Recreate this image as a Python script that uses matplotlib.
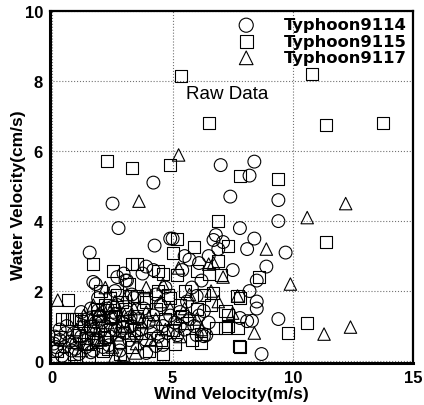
import matplotlib
matplotlib.use("Agg")
import matplotlib.pyplot as plt
import numpy as np

plt.rcParams['font.family'] = ['Liberation Sans', 'DejaVu Sans']

# Typhoon9114 (circles)
x9114 = [4.2, 2.5, 2.75, 1.55, 4.25, 4.9, 7.0, 8.4, 8.2, 7.4, 9.4, 9.4, 7.8, 6.8, 8.4, 5.0, 6.7, 7.1,
         6.9, 8.1, 9.7, 5.5, 8.9, 7.5, 8.5, 8.2, 6.0, 8.5, 8.5, 6.3, 7.8, 9.4, 8.1, 8.3, 6.4, 5.3, 8.7,
         6.0, 6.3, 5.2, 3.9, 2.96, 1.7, 3.04, 3.3, 3.9, 4.3, 4.6, 1.8, 2.7, 3.1, 3.75, 4.2,
         0.05, 0.1, 0.2, 0.3, 0.5, 0.4, 0.7, 0.8, 0.9, 1.0, 1.1, 1.2, 1.3, 1.4, 1.5, 1.6, 1.7, 1.8,
         1.9, 2.0, 2.0, 2.1, 2.2, 2.3, 2.4, 2.5, 2.6, 2.7, 2.8, 2.9, 3.0, 3.1, 3.2, 3.3, 3.4, 3.5,
         3.6, 3.7, 3.8, 3.9, 4.0, 4.1, 4.2, 4.4, 4.5, 4.6, 4.8, 4.9, 5.1, 5.3, 5.5, 5.7, 5.9, 6.1,
         6.5, 5.6, 5.8, 6.2, 5.4, 4.7, 4.3, 1.9, 1.6, 1.2, 2.6, 0.6, 0.3, 6.5, 6.1, 5.7,
         1.45, 1.75, 2.05, 2.35, 2.65, 2.95, 1.6, 1.9, 2.2, 2.5, 2.8, 3.25, 0.15, 0.55, 0.95]
y9114 = [5.1, 4.5, 3.8, 3.1, 3.3, 3.5, 5.6, 5.7, 5.3, 4.7, 4.6, 4.0, 3.8, 3.6, 3.5, 3.5, 3.46, 3.4,
         3.2, 3.2, 3.1, 3.0, 2.7, 2.6, 2.3, 2.0, 1.86, 1.7, 1.5, 1.43, 1.23, 1.2, 1.14, 1.15, 0.74, 1.0, 0.2,
         0.74, 0.71, 0.74, 2.7, 2.5, 2.26, 2.3, 1.9, 0.23, 0.43, 0.46, 2.2, 2.4, 2.3, 2.5, 2.6,
         0.5, 0.7, 0.3, 0.6, 0.4, 0.15, 0.55, 0.3, 0.8, 0.5, 0.2, 0.7, 1.0, 0.4, 0.65, 0.9, 0.3, 1.1,
         0.6, 1.3, 0.85, 0.4, 1.0, 1.5, 0.7, 1.2, 0.9, 1.6, 0.5, 1.1, 0.8, 1.4, 0.6, 1.0, 1.8, 0.7,
         1.2, 0.9, 1.5, 0.6, 1.1, 0.8, 1.3, 0.7, 1.6, 1.0, 0.8, 1.3, 1.1, 1.4, 0.9, 1.2, 1.0, 1.3,
         1.1, 1.7, 2.1, 2.3, 2.6, 2.1, 1.9, 1.8, 1.5, 1.4, 2.0, 1.0, 0.9, 3.0, 2.8, 2.9,
         1.2, 0.6, 1.1, 0.45, 1.35, 0.95, 0.25, 1.45, 0.65, 1.55, 0.3, 1.25, 0.4, 0.8, 0.35]

# Typhoon9115 (squares)
x9115 = [5.33, 10.8, 6.5, 11.4, 13.75, 2.29, 3.29, 4.88, 11.4, 10.6, 9.8, 7.8, 9.4, 7.8, 6.9, 5.2,
         5.9, 7.3, 5.0, 8.6, 7.8, 7.2, 7.2, 7.7, 6.9, 6.0, 6.5, 7.0, 5.2, 7.7, 6.7, 5.5, 7.3, 7.3,
         6.8, 6.2, 7.75, 1.67, 2.5, 3.3, 3.5, 4.4, 4.6, 0.63, 2.4, 2.9, 3.5, 6.2,
         0.4, 0.6, 0.8, 1.0, 1.2, 0.2, 0.5, 0.9, 1.3, 1.5, 1.7, 1.9, 2.1, 2.2, 2.4, 2.6, 2.8, 3.0,
         3.1, 3.3, 3.5, 3.7, 3.9, 4.0, 4.2, 4.3, 4.5, 4.7, 4.9, 5.1, 5.3, 5.6, 5.8, 6.0, 6.3, 4.4,
         4.8, 3.8, 2.0, 1.8, 1.1, 0.3, 2.7, 3.2, 5.4, 4.6, 5.0, 6.6,
         1.55, 1.85, 2.15, 2.45, 2.75, 1.4, 2.3, 2.9, 3.4]
y9115 = [8.14, 8.2, 6.8, 6.74, 6.8, 5.71, 5.51, 5.6, 3.4, 1.09, 0.8, 0.4, 5.2, 5.3, 4.0, 3.5,
         3.26, 3.3, 3.1, 2.4, 1.8, 1.43, 0.94, 0.94, 2.85, 2.57, 2.5, 2.46, 2.46, 1.86, 1.94, 2.0, 1.31, 1.0,
         0.94, 0.51, 0.43, 2.77, 2.57, 2.77, 2.77, 2.57, 2.5, 1.74, 1.8, 1.7, 1.86, 0.77,
         1.2, 1.2, 1.2, 1.2, 1.15, 0.3, 0.1, 0.2, 0.5, 0.15, 0.8, 1.3, 0.3, 1.6, 0.9, 1.3, 0.2, 1.5,
         1.0, 0.4, 1.3, 0.8, 1.7, 0.3, 1.0, 1.5, 0.6, 1.2, 1.8, 0.5, 1.6, 1.1, 0.6, 1.5, 1.9, 2.0,
         1.9, 1.8, 2.0, 0.55, 0.75, 0.7, 1.9, 2.2, 1.3, 0.2, 0.9, 1.6,
         1.0, 1.5, 0.7, 1.25, 0.55, 0.65, 0.35, 1.15, 0.9]

# Typhoon9117 (triangles)
x9117 = [5.25, 3.6, 12.2, 10.6, 8.9, 9.9, 7.7, 8.4, 11.3, 12.4, 6.7, 7.1, 6.6, 6.9, 7.5, 3.9, 4.6,
         0.22, 2.6, 2.96, 3.46, 5.25, 6.5,
         1.0, 1.3, 1.5, 1.7, 1.8, 2.0, 2.1, 2.3, 2.5, 2.6, 2.8, 3.0, 3.2, 3.4, 3.5, 3.7, 3.9, 4.1,
         4.3, 4.5, 4.7, 4.9, 5.1, 5.3, 5.5, 5.7, 6.0, 6.2, 1.2, 0.8, 2.2, 3.1, 1.6, 2.4,
         1.9, 2.7, 1.4, 3.3]
y9117 = [5.89, 4.57, 4.5, 4.1, 3.2, 2.2, 1.86, 0.8, 0.77, 0.97, 2.8, 2.4, 2.0, 1.7, 1.37, 2.1, 2.2,
         1.74, 0.14, 0.17, 0.23, 2.66, 2.77,
         0.9, 1.3, 0.5, 1.6, 1.0, 0.6, 1.5, 1.1, 0.4, 1.7, 1.0, 1.3, 0.8, 1.5, 0.5, 1.1, 1.4, 0.6,
         1.2, 1.7, 0.9, 1.5, 1.2, 0.7, 1.5, 1.9, 1.2, 0.9, 0.3, 0.6, 2.1, 1.9, 1.2, 1.4,
         1.35, 0.75, 0.95, 1.25]

fig = plt.figure(figsize=(4.24, 4.06), dpi=100)
ax = fig.add_axes([0.118, 0.104, 0.856, 0.866])

ax.scatter(x9114, y9114, s=85, marker='o', facecolors='none', edgecolors='k', linewidths=0.8,
           label='Typhoon9114')
ax.scatter(x9115, y9115, s=75, marker='s', facecolors='none', edgecolors='k', linewidths=0.8,
           label='Typhoon9115')
ax.scatter(x9117, y9117, s=80, marker='^', facecolors='none', edgecolors='k', linewidths=0.8,
           label='Typhoon9117')

ax.set_xlim(-0.1, 15)
ax.set_ylim(-0.05, 10)
ax.set_xticks([0, 5, 10, 15])
ax.set_yticks([0, 2, 4, 6, 8, 10])
ax.grid(True, linestyle=':', color='0.45', linewidth=0.8)
ax.set_axisbelow(True)
ax.tick_params(direction='in', length=0, labelsize=12, pad=5)
for lab in ax.get_xticklabels() + ax.get_yticklabels():
    lab.set_fontweight('bold')

ax.spines['left'].set_linewidth(2.2)
ax.spines['bottom'].set_linewidth(2.2)
ax.spines['top'].set_linewidth(1.6)
ax.spines['right'].set_linewidth(1.6)

ax.set_xlabel('Wind Velocity(m/s)', fontsize=12.5, fontweight='bold', labelpad=1)
ax.set_ylabel('Water Velocity(cm/s)', fontsize=12.5, fontweight='bold')
ax.yaxis.set_label_coords(-0.065, 0.48)

ax.text(5.55, 7.65, 'Raw Data', fontsize=13.5, va='center', ha='left')

leg = ax.legend(loc='upper right', bbox_to_anchor=(1.01, 1.01), frameon=False,
                labelspacing=0.08, handletextpad=1.3, borderaxespad=0.2,
                prop={'family': 'DejaVu Sans', 'weight': 'bold', 'size': 11.8}, markerscale=1.1)

fig.savefig('out.png', dpi=100)
